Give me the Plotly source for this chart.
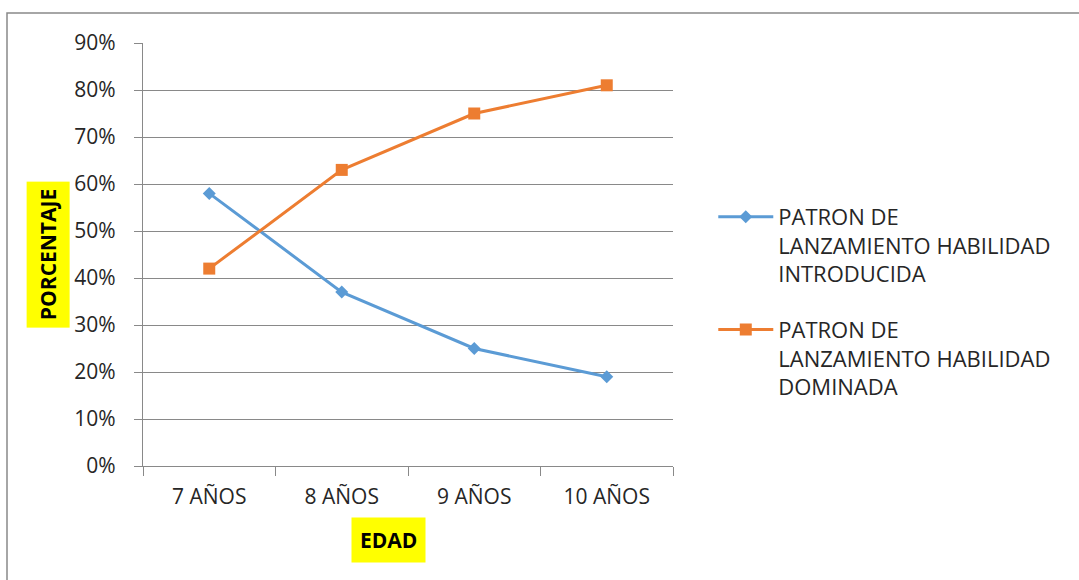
import plotly.graph_objects as go

# Age groups on the horizontal axis
edades = ["7 AÑOS", "8 AÑOS", "9 AÑOS", "10 AÑOS"]

# Share of children per throwing-skill level (fraction of 1)
introducida = [0.58, 0.37, 0.25, 0.19]
dominada = [0.42, 0.63, 0.75, 0.81]

nombre_intro = "PATRON DE<br>LANZAMIENTO HABILIDAD<br>INTRODUCIDA"
nombre_dom = "PATRON DE<br>LANZAMIENTO HABILIDAD<br>DOMINADA"

y_ticks = [i / 10 for i in range(10)]
y_tick_text = [f"{i * 10}%" for i in range(10)]

FONT = "Open Sans"
GRAY = "#898989"
TEXT = "#262626"

fig = go.Figure()
fig.add_trace(go.Scatter(
    x=edades, y=introducida, name=nombre_intro, mode="lines+markers",
    legendgroup="introducida",
    line=dict(color="#5B9BD5", width=3),
    marker=dict(symbol="diamond", size=10, color="#5B9BD5"),
))
fig.add_trace(go.Scatter(
    x=edades, y=dominada, name=nombre_dom, mode="lines+markers",
    legendgroup="dominada",
    line=dict(color="#ED7D31", width=3),
    marker=dict(symbol="square", size=12, color="#ED7D31"),
))

fig.update_layout(
    width=1079, height=580,
    margin=dict(l=143, r=406, t=43, b=114),
    paper_bgcolor="white", plot_bgcolor="white",
    font=dict(family=FONT, size=21, color=TEXT),
    showlegend=True,
    legend=dict(
        x=1.076, xanchor="left", y=0.388, yanchor="middle",
        font=dict(family=FONT, size=22, color=TEXT),
        tracegroupgap=24, valign="top", itemwidth=55,
        bgcolor="rgba(0,0,0,0)",
    ),
    xaxis=dict(
        type="category", range=[-0.5, 3.5],
        showgrid=False, showline=True, linecolor=GRAY, linewidth=1.2,
        ticks="outside", ticklen=9, tickcolor=GRAY, tickwidth=1.2,
        tickson="boundaries", ticklabelstandoff=12,
        tickfont=dict(family=FONT, size=21, color=TEXT),
        fixedrange=True,
    ),
    yaxis=dict(
        range=[0, 0.9], tickvals=y_ticks, ticktext=y_tick_text,
        showgrid=True, gridcolor=GRAY, gridwidth=1.2,
        showline=True, linecolor=GRAY, linewidth=1.2,
        ticks="outside", ticklen=8, tickcolor=GRAY, tickwidth=1.2,
        ticklabelstandoff=14, zeroline=False,
        tickfont=dict(family=FONT, size=21, color=TEXT),
        fixedrange=True,
    ),
    shapes=[
        # outer chart frame
        dict(type="rect", xref="paper", yref="paper",
             x0=-0.2566, x1=1.8, y0=-0.35, y1=1.0709,
             line=dict(color=GRAY, width=1.5), fillcolor="rgba(0,0,0,0)",
             layer="below"),
    ],
    annotations=[
        dict(text="<b>PORCENTAJE</b>", xref="paper", yref="paper",
             x=-0.179, y=0.4988, xanchor="center", yanchor="middle",
             textangle=-90, showarrow=False, bgcolor="#FFFF00", borderpad=7,
             font=dict(family=FONT, size=21, color="black")),
        dict(text="<b>EDAD</b>", xref="paper", yref="paper",
             x=0.464, y=-0.1738, xanchor="center", yanchor="middle",
             showarrow=False, bgcolor="#FFFF00", borderpad=8,
             font=dict(family=FONT, size=21, color="black")),
    ],
)

fig.write_html("out.html")
